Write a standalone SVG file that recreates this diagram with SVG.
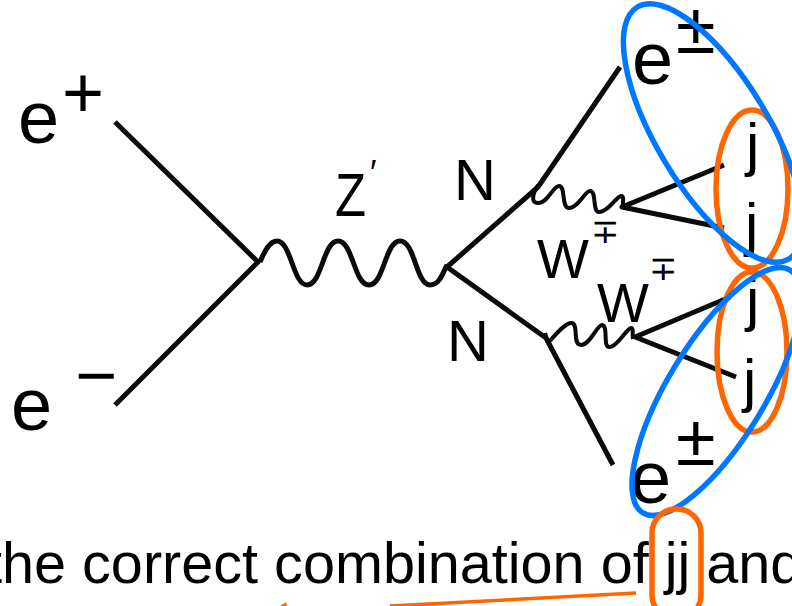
<svg xmlns="http://www.w3.org/2000/svg" width="792" height="606" viewBox="0 0 792 606">
<style>
text{font-family:"Liberation Sans",Arial,sans-serif;fill:#000}
.l{fill:none;stroke:#0b0b0b;stroke-width:5;stroke-linecap:butt;stroke-linejoin:round}
.w{stroke-width:4}
.b{fill:none;stroke:#0077ff;stroke-width:5.5}
.o{fill:none;stroke:#ff6600;stroke-width:5.5}
.s{font-size:58px}
.e{font-size:74px}
.pm{font-size:72px}
.mp{font-size:34px}
.j{font-size:60px}
</style>
<rect width="792" height="606" fill="#fff"/>
<g id="connectors">
<path class="l" d="M115 122L258 262L115 405"/>
<path class="l" d="M260 262C265 250 270 241 277 241C291 241 293 285 307 285C322 285 323 241 338 241C353 241 354 285 369 285C384 285 385 241 400 241C415 241 416 285 430 285C440 285 443 272 447 265"/>
<path class="l" d="M620 67L538 187L447 267L546 338L613 465"/>
<path class="l w" d="M538 185C532 195 531 203 538 203C548 203 553 186 559 186C566 186 561 208 569 208C578 208 585 191 590 191C597 191 592 212 599 212C608 212 616 197 621 196C625 196 622 203 623 207"/>
<path class="l w" d="M545 333L548 343C556 334 566 322 572 323C579 325 572 345 581 345C590 345 597 325 602 325C609 326 602 348 610 347C618 346 626 329 631 328C634 328 632 335 633 339"/>
<path class="l" d="M724 165L622 207L724 228"/>
<path class="l" d="M730 297L635 337L736 377"/>
<path class="o" style="stroke-width:3.5" d="M636 593L390 606"/>
<path d="M280 606L286 602L287 606Z" fill="#ff6600"/>
</g>
<g id="e-plus"><text class="e" x="18" y="143">e</text><text x="62" y="117" style="font-size:72px">+</text></g>
<g id="e-minus"><text class="e" x="11" y="430">e</text><text x="75" y="400" style="font-size:72px">−</text></g>
<g id="z-prime"><text x="335" y="216" style="font-size:61px" textLength="31" lengthAdjust="spacingAndGlyphs">Z</text><text x="370" y="184" style="font-size:35px">′</text></g>
<g id="n-top"><text class="s" x="454" y="200">N</text></g>
<g id="n-bottom"><text class="s" x="447" y="361">N</text></g>
<g id="w-top"><text x="537" y="278" style="font-size:55px">W</text><text class="mp" x="591" y="243">∓</text></g>
<g id="w-bottom"><text x="597" y="322" style="font-size:55px">W</text><text class="mp" x="649" y="280">∓</text></g>
<g id="e-top"><text class="e" x="632" y="84">e</text><text class="pm" x="676" y="53">±</text></g>
<g id="e-bottom"><text class="e" x="630" y="503">e</text><text class="pm" x="676" y="465">±</text></g>
<g id="jets"><text class="j" x="746" y="165">j</text><text class="j" x="745" y="245">j</text><text class="j" x="746" y="320">j</text><text class="j" x="743" y="401">j</text></g>
<g id="caption"><text x="-14" y="583" style="font-size:57.6px">the correct combination of jj and</text></g>
<g id="orange-top"><ellipse class="o" cx="752" cy="189" rx="36" ry="79"/></g>
<g id="orange-bottom"><ellipse class="o" cx="752" cy="352" rx="35" ry="80"/></g>
<g id="blue-top"><ellipse class="b" cx="713" cy="133" rx="147" ry="56" transform="rotate(59 713 133)"/></g>
<g id="blue-bottom"><ellipse class="b" cx="716.5" cy="391.5" rx="142" ry="48.6" transform="rotate(-58.8 716.5 391.5)"/></g>
<g id="orange-jj"><rect class="o" x="652" y="509" width="49" height="110" rx="24"/></g>
</svg>
